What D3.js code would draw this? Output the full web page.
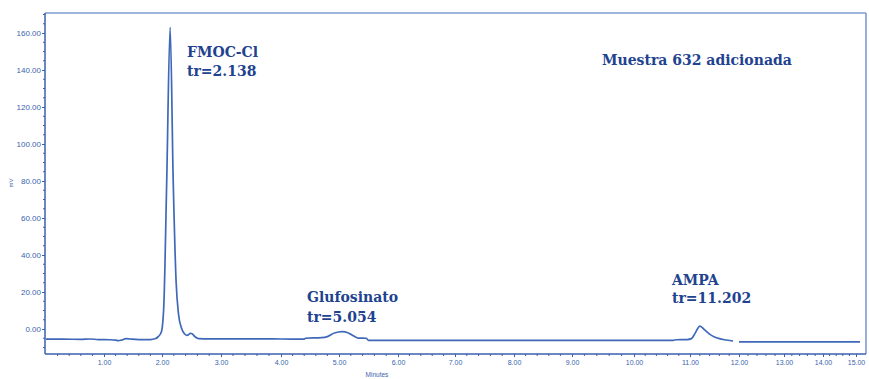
<!DOCTYPE html>
<html>
<head>
<meta charset="utf-8">
<script src="https://cdn.jsdelivr.net/npm/d3@7"></script>
<style>
  html, body { margin: 0; padding: 0; background: #fff; }
  svg { display: block; }
</style>
</head>
<body>
<svg id="chart" width="869" height="379"></svg>
<script>
// Chromatogram trace: retention time (min) and detector signal (mV)
const traceTime = [
  0.00, 0.30, 0.60, 0.75, 0.90, 1.10, 1.20, 1.25, 1.30, 1.38, 1.45, 1.60, 1.80,
  1.88, 1.94, 1.99, 2.03, 2.08, 2.138, 2.19, 2.24, 2.28, 2.33, 2.38, 2.42, 2.45,
  2.48, 2.51, 2.56, 2.62, 2.80, 3.50, 4.00, 4.40, 4.42, 4.70, 4.80, 4.92, 5.054,
  5.15, 5.25, 5.33, 5.46, 5.50, 6.50, 8.00, 9.50, 10.70, 10.75, 10.95, 11.03,
  11.10, 11.202, 11.30, 11.40, 11.50, 11.60, 11.70, 11.88, 11.92, 12.00, 13.50, 15.12
];
const traceMv = [
  -5.5, -5.5, -5.6, -5.4, -5.7, -5.8, -6.0, -6.3, -6.0, -5.2, -5.4, -5.7, -5.7,
  -5.3, -4.0, -1.5, 12, 80, 163, 80, 25, 8, 0.5, -2.6, -3.4, -3.1,
  -2.3, -2.6, -4.2, -5.2, -5.3, -5.3, -5.4, -5.5, -5.0, -4.7, -4.1, -2.2, -1.4,
  -2.0, -3.8, -4.9, -5.0, -6.1, -6.1, -6.2, -6.1, -6.1, -5.8, -5.7, -5.2,
  -2.5, 1.6, -0.5, -2.8, -4.3, -5.2, -5.8, -6.5, NaN, -7.0, -7.0, -7.0
];

// Identified peaks
const peakNames = ["FMOC-Cl", "Glufosinato", "AMPA"];
const peakTimes = [2.138, 5.054, 11.202];

// Axis ticks
const xTickValues = [1, 2, 3, 4, 5, 6, 7, 8, 9, 10, 11, 12, 13, 14, 15];
const yTickValues = [0, 20, 40, 60, 80, 100, 120, 140, 160];

const sampleTitle = "Muestra 632 adicionada";

const svg = d3.select("#chart");
const plot = { left: 45, right: 866, top: 13, bottom: 354 };

// Time axis of the exported run is not uniform, so it is mapped piecewise
const x = d3.scaleLinear()
  .domain([0, 1, 2, 3, 4, 5, 6, 7, 8, 9, 10, 11, 12, 13, 14, 15, 15.3])
  .range([46, 104, 162, 221, 281, 339, 398, 455, 514, 572, 634, 690, 739, 784, 823, 856, 866]);

const y = d3.scaleLinear()
  .domain([(329 - 354) / 1.85, (329 - 13) / 1.85])
  .range([plot.bottom, plot.top]);

const axisColor = "#3b5fae";
const frameColor = "#7f9bd0";
const traceColor = "#3f69b8";
const labelColor = "#21428f";

// Frame (top and right edges)
svg.append("line")
  .attr("x1", plot.left).attr("x2", plot.right)
  .attr("y1", plot.top).attr("y2", plot.top)
  .attr("stroke", frameColor).attr("stroke-width", 1.6);
svg.append("line")
  .attr("x1", plot.right).attr("x2", plot.right)
  .attr("y1", plot.top).attr("y2", plot.bottom)
  .attr("stroke", frameColor).attr("stroke-width", 1.6);

// Minor ticks
const yMinor = d3.range(-10, 171, 5).filter(v => v % 20 !== 0);
svg.append("g").selectAll("line").data(yMinor).join("line")
  .attr("x1", plot.left - 2).attr("x2", plot.left)
  .attr("y1", d => y(d)).attr("y2", d => y(d))
  .attr("stroke", axisColor).attr("stroke-width", 1);

const xMinor = d3.range(0.2, 15.1, 0.2).filter(v => Math.abs(v - Math.round(v)) > 0.01);
svg.append("g").selectAll("line").data(xMinor).join("line")
  .attr("x1", d => x(d)).attr("x2", d => x(d))
  .attr("y1", plot.bottom).attr("y2", plot.bottom + 2)
  .attr("stroke", axisColor).attr("stroke-width", 1);

// Y axis
const yAxis = svg.append("g")
  .attr("transform", `translate(${plot.left},0)`)
  .call(d3.axisLeft(y).tickValues(yTickValues).tickFormat(d3.format(".2f")).tickSize(3).tickPadding(1));
yAxis.select(".domain").attr("stroke", axisColor).attr("stroke-width", 1.5)
  .attr("d", `M0,${plot.top}V${plot.bottom}`);
yAxis.selectAll(".tick line").attr("stroke", axisColor);
yAxis.selectAll(".tick text")
  .attr("fill", axisColor)
  .style("font-family", "'Liberation Sans', Arial, sans-serif")
  .style("font-size", "8px");

// X axis
const xAxis = svg.append("g")
  .attr("transform", `translate(0,${plot.bottom})`)
  .call(d3.axisBottom(x).tickValues(xTickValues).tickFormat(d3.format(".2f")).tickSize(3).tickPadding(3));
xAxis.select(".domain").attr("stroke", axisColor).attr("stroke-width", 1.5)
  .attr("d", `M${plot.left},0H${plot.right}`);
xAxis.selectAll(".tick line").attr("stroke", axisColor);
xAxis.selectAll(".tick text")
  .attr("fill", axisColor)
  .style("font-family", "'Liberation Sans', Arial, sans-serif")
  .style("font-size", "7px");

// Axis titles
svg.append("text")
  .attr("x", 377).attr("y", 377)
  .attr("text-anchor", "middle")
  .attr("fill", axisColor)
  .style("font-family", "'Liberation Sans', Arial, sans-serif")
  .style("font-size", "6.5px")
  .text("Minutes");
svg.append("text")
  .attr("transform", "translate(13,183) rotate(-90)")
  .attr("text-anchor", "middle")
  .attr("fill", axisColor)
  .style("font-family", "'Liberation Sans', Arial, sans-serif")
  .style("font-size", "6px")
  .text("mV");

// Signal trace
const points = traceTime.map((t, i) => [t, traceMv[i]]);
const line = d3.line()
  .defined(d => !isNaN(d[1]))
  .x(d => x(d[0]))
  .y(d => y(d[1]))
  .curve(d3.curveMonotoneX);
svg.append("path")
  .datum(points)
  .attr("d", line)
  .attr("fill", "none")
  .attr("stroke", traceColor)
  .attr("stroke-width", 1.7)
  .attr("stroke-linejoin", "round");

// Peak annotations
const labelPos = [
  { dx: 187, ny: 57, ty: 76 },
  { dx: 307, ny: 302, ty: 322 },
  { dx: 672, ny: 285, ty: 303 }
];
const fontStack = "'DejaVu Serif', 'Liberation Serif', serif";
peakNames.forEach((name, i) => {
  const g = svg.append("g")
    .attr("fill", labelColor)
    .style("font-family", fontStack)
    .style("font-weight", "bold")
    .style("font-size", "14px");
  g.append("text").attr("x", labelPos[i].dx).attr("y", labelPos[i].ny).text(name);
  g.append("text").attr("x", labelPos[i].dx).attr("y", labelPos[i].ty)
    .text("tr=" + d3.format(".3f")(peakTimes[i]));
});

svg.append("text")
  .attr("x", 602).attr("y", 65)
  .attr("fill", labelColor)
  .style("font-family", fontStack)
  .style("font-weight", "bold")
  .style("font-size", "14px")
  .text(sampleTitle);
</script>
</body>
</html>
